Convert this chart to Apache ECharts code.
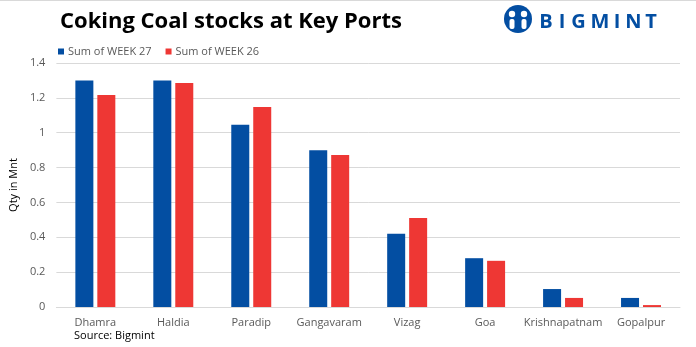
<!DOCTYPE html>
<html><head><meta charset="utf-8">
<script src="https://cdn.jsdelivr.net/npm/echarts@6/dist/echarts.min.js"></script>
<style>html,body{margin:0;padding:0;background:#fff}#c{width:696px;height:347px}</style>
</head><body><div id="c"></div>
<script>
var categories = ['Dhamra','Haldia','Paradip','Gangavaram','Vizag','Goa','Krishnapatnam','Gopalpur'];
var week27 = [1.30, 1.30, 1.045, 0.90, 0.42, 0.28, 0.103, 0.052];
var week26 = [1.216, 1.285, 1.147, 0.872, 0.51, 0.265, 0.052, 0.011];
var seriesNames = ['Sum of WEEK 27','Sum of WEEK 26'];
var yTicks = {min:0, max:1.4, interval:0.2};

var chart = echarts.init(document.getElementById('c'), null, {renderer:'canvas'});
var lbl = {fontFamily:'Open Sans', fontSize:11, color:'#595959'};
var blue = '#034ea2', red = '#ee3734';
var letters = 'BIGMINT'.split('');
var letterX = [546, 562, 578.5, 600, 617, 633.5, 651];
var logoGraphics = [
  {type:'line', shape:{x1:0,y1:0.5,x2:696,y2:0.5}, style:{stroke:'#d9d9d9',lineWidth:1}},
  {type:'circle', shape:{cx:518, cy:19, r:14}, style:{fill:blue}},
  {type:'circle', shape:{cx:512, cy:14, r:3.2}, style:{fill:'#fff'}},
  {type:'circle', shape:{cx:524, cy:14, r:3.2}, style:{fill:'#fff'}},
  {type:'rect', shape:{x:509.5, y:19, width:5, height:10, r:2}, style:{fill:'#fff'}},
  {type:'rect', shape:{x:521.5, y:19, width:5, height:10, r:2}, style:{fill:'#fff'}}
];
letters.forEach(function(ch, i){
  logoGraphics.push({type:'text', x: letterX[i], y: 22,
    style:{text:ch, fill:blue, font:'bold 20px "Open Sans"', textAlign:'center', textVerticalAlign:'middle'}});
});
logoGraphics.push({type:'text', left:74, top:330,
  style:{text:'Source: Bigmint', fill:'#000', font:'11px "Open Sans"'}});

chart.setOption({
  backgroundColor:'#fff',
  title:{text:'Coking Coal stocks at Key Ports', left:55, top:6,
    textStyle:{fontFamily:'Open Sans', fontWeight:'bold', fontSize:22, color:'#000'}},
  legend:{left:53, top:41, itemWidth:6, itemHeight:6, itemGap:14, icon:'rect',
    textStyle:{fontFamily:'Open Sans', fontSize:11, color:'#595959', padding:[0,0,0,-1]},
    data:seriesNames},
  grid:{left:54, right:16, top:63, bottom:40},
  xAxis:{type:'category', data:categories,
    axisLine:{lineStyle:{color:'#d9d9d9'}}, axisTick:{show:false},
    axisLabel:Object.assign({margin:10, interval:0}, lbl)},
  yAxis:{type:'value', min:yTicks.min, max:yTicks.max, interval:yTicks.interval,
    name:'Qty in Mnt', nameLocation:'middle', nameGap:33,
    nameTextStyle:{fontFamily:'Open Sans', fontSize:11, color:'#000'},
    axisLine:{show:false}, axisTick:{show:false},
    splitLine:{lineStyle:{color:'#d9d9d9'}},
    axisLabel:Object.assign({margin:11, formatter:function(v){return String(+v.toFixed(1));}}, lbl)},
  series:[
    {name:seriesNames[0], type:'bar', data:week27, barWidth:18, barGap:'22%', itemStyle:{color:blue}},
    {name:seriesNames[1], type:'bar', data:week26, barWidth:18, barGap:'22%', itemStyle:{color:red}}
  ],
  graphic:logoGraphics,
  animation:false
});
</script></body></html>
